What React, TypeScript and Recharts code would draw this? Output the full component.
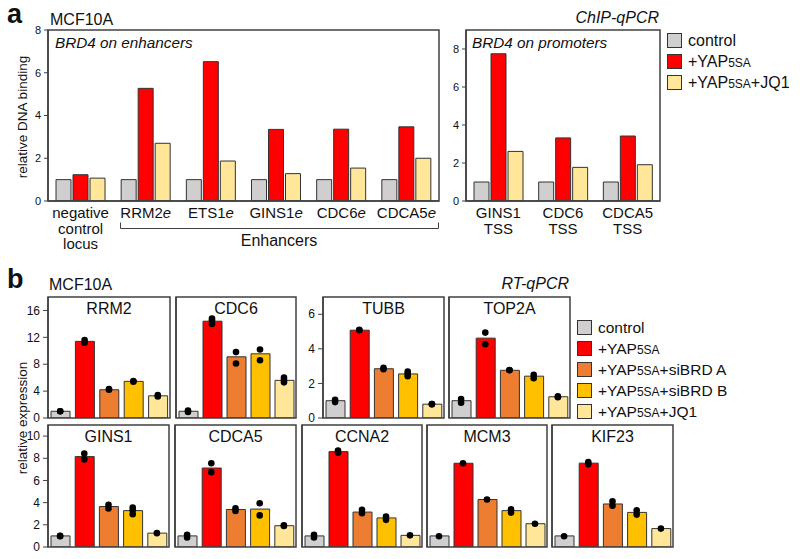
import React from 'react';
import { BarChart, ComposedChart, Bar, XAxis, YAxis, Cell, Line } from 'recharts';

const FONT = '"Liberation Sans", Arial, Helvetica, sans-serif';
const INK = '#111';
const FRAME = '#404040';

// ---------- Panel a data ----------
const enhancerLoci = ['negative control locus', 'RRM2e', 'ETS1e', 'GINS1e', 'CDC6e', 'CDCA5e'];
const enhControl = [1.0, 1.0, 1.0, 1.0, 1.0, 1.0];
const enhYap = [1.23, 5.27, 6.52, 3.35, 3.36, 3.47];
const enhJq1 = [1.07, 2.7, 1.87, 1.28, 1.54, 2.0];

const promoterLoci = ['GINS1 TSS', 'CDC6 TSS', 'CDCA5 TSS'];
const proControl = [1.0, 1.0, 1.0];
const proYap = [7.75, 3.32, 3.42];
const proJq1 = [2.61, 1.77, 1.91];

const ticksEnh = [0, 2, 4, 6, 8];
const ticksPro = [0, 2, 4, 6, 8];
const legendA = ['control', '+YAP5SA', '+YAP5SA+JQ1'];
const colorsA = ['#d0cece', '#ff0000', '#ffe699'];

// ---------- Panel b data ----------
const conditions = ['control', '+YAP5SA', '+YAP5SA+siBRD A', '+YAP5SA+siBRD B', '+YAP5SA+JQ1'];
const colorsB = ['#d0cece', '#ff0000', '#ed7d31', '#ffc000', '#ffe699'];

const rrm2Mean = [1.0, 11.4, 4.2, 5.45, 3.3];
const rrm2Reps = [[1.0, 1.0], [11.2, 11.6], [4.2, 4.3], [5.4, 5.5], [3.2, 3.4]];
const cdc6Mean = [1.0, 14.4, 9.1, 9.55, 5.6];
const cdc6Reps = [[0.9, 1.1], [14.0, 14.5, 14.8], [8.1, 9.8], [8.6, 10.2], [5.3, 5.6, 6.0]];
const tubbMean = [1.0, 5.08, 2.85, 2.55, 0.8];
const tubbReps = [[0.92, 1.05], [5.08, 5.1], [2.82, 2.9], [2.42, 2.55, 2.68], [0.8, 0.8]];
const top2aMean = [1.0, 4.62, 2.76, 2.42, 1.23];
const top2aReps = [[0.88, 1.1], [4.27, 4.94], [2.76, 2.78], [2.3, 2.5], [1.2, 1.25]];
const gins1Mean = [1.0, 8.15, 3.65, 3.28, 1.25];
const gins1Reps = [[0.98, 1.0], [7.9, 8.43], [3.48, 3.8], [2.95, 3.3, 3.55], [1.25]];
const cdca5Mean = [1.0, 7.12, 3.38, 3.42, 1.92];
const cdca5Reps = [[0.85, 1.1], [6.75, 7.55], [3.25, 3.5], [2.85, 3.95], [1.9, 1.95]];
const ccna2Mean = [1.0, 8.6, 3.15, 2.62, 1.05];
const ccna2Reps = [[0.85, 1.1], [8.5, 8.7], [3.05, 3.35], [2.45, 2.75], [1.05]];
const mcm3Mean = [1.0, 7.55, 4.28, 3.28, 2.1];
const mcm3Reps = [[0.97], [7.55], [4.28], [3.1, 3.4], [2.1]];
const kif23Mean = [1.0, 7.56, 3.88, 3.12, 1.66];
const kif23Reps = [[0.97], [7.45, 7.65], [3.73, 4.13], [2.92, 3.31], [1.66]];

const ticksTop1 = [0, 4, 8, 12, 16];
const ticksTop2 = [0, 2, 4, 6];
const ticksBottom = [0, 2, 4, 6, 8, 10];

// ---------- helpers ----------
const frameLine = { stroke: FRAME, strokeWidth: 1.5 };

function withSmall(label: string, big: number, small: number) {
  const parts = label.split('5SA');
  const out: any[] = [];
  parts.forEach((p, i) => {
    out.push(<tspan key={'p' + i} fontSize={big}>{p}</tspan>);
    if (i < parts.length - 1) out.push(<tspan key={'s' + i} fontSize={small}>5SA</tspan>);
  });
  return out;
}

function italicE(line: string) {
  if (/\de$/.test(line)) {
    return [<tspan key="a">{line.slice(0, -1)}</tspan>, <tspan key="b" fontStyle="italic">e</tspan>];
  }
  return line;
}

const LocusTick = (props: any) => {
  const { x, y, payload } = props;
  const lines: string[] = String(payload.value).split(' ');
  return (
    <g>
      {lines.map((ln, i) => (
        <text key={i} x={x} y={y + 17 + i * 15.5} textAnchor="middle" fontSize={15} fontFamily={FONT} fill={INK}>
          {italicE(ln)}
        </text>
      ))}
    </g>
  );
};

const makeNumTick = (size: number) => (props: any) => {
  const { x, y, payload } = props;
  return (
    <text x={x} y={y} dy="0.35em" textAnchor="end" fontSize={size} fontFamily={FONT} fill={INK}>
      {payload.value}
    </text>
  );
};
const TickA = makeNumTick(11);
const TickB = makeNumTick(12);

type PlotAProps = { loci: string[]; c: number[]; yp: number[]; jq: number[]; x: number; y: number; w: number; h: number; max: number; ticks: number[] };

const PlotA = ({ loci, c, yp, jq, x, y, w, h, max, ticks }: PlotAProps) => {
  const yw = 36, xh = 52, pad = 8;
  const data = loci.map((l, i) => ({ locus: l, control: c[i], yap: yp[i], jq1: jq[i] }));
  return (
    <div style={{ position: 'absolute', left: x - yw - pad, top: y - pad }}>
      <BarChart width={w + yw + 2 * pad} height={h + xh + 2 * pad} data={data}
        margin={{ top: pad, right: pad, bottom: pad, left: pad }} barGap={2} barCategoryGap={7}>
        <XAxis dataKey="locus" interval={0} height={xh} tickSize={0} tickMargin={0} tickLine={false}
          axisLine={frameLine} tick={<LocusTick />} />
        <YAxis type="number" domain={[0, max]} ticks={ticks} interval={0} width={yw} tickSize={4} tickMargin={3}
          tickLine={{ stroke: FRAME }} axisLine={frameLine} tick={<TickA />} allowDataOverflow />
        <Bar dataKey="control" fill={colorsA[0]} stroke="#333" strokeWidth={1} barSize={15} isAnimationActive={false} />
        <Bar dataKey="yap" fill={colorsA[1]} stroke="#333" strokeWidth={1} barSize={15} isAnimationActive={false} />
        <Bar dataKey="jq1" fill={colorsA[2]} stroke="#333" strokeWidth={1} barSize={15} isAnimationActive={false} />
      </BarChart>
    </div>
  );
};

type GeneProps = { mean: number[]; reps: number[][]; x: number; y: number; w: number; h: number; max: number; ticks: number[]; showY: boolean };

const GenePlot = ({ mean, reps, x, y, w, h, max, ticks, showY }: GeneProps) => {
  const yw = 36, pad = 10;
  const data = conditions.map((cond, i) => ({
    cond,
    mean: mean[i],
    r1: reps[i][0] ?? null,
    r2: reps[i][1] ?? null,
    r3: reps[i][2] ?? null,
  }));
  const dot = { r: 3.3, fill: '#000', stroke: 'none' };
  return (
    <div style={{ position: 'absolute', left: x - yw - pad, top: y - pad }}>
      <ComposedChart width={w + yw + 2 * pad} height={h + 2 * pad} data={data}
        margin={{ top: pad, right: pad, bottom: pad, left: pad }}>
        <XAxis dataKey="cond" height={0} tick={false} tickLine={false} axisLine={frameLine} />
        <YAxis type="number" domain={[0, max]} ticks={ticks.slice(1)} interval={0} width={yw} tickSize={5} tickMargin={3}
          tickLine={showY ? { stroke: FRAME } : false} axisLine={frameLine}
          tick={showY ? <TickB /> : false} allowDataOverflow />
        <Bar dataKey="mean" barSize={19} stroke="#333" strokeWidth={1} isAnimationActive={false}>
          {data.map((d, i) => <Cell key={d.cond} fill={colorsB[i]} />)}
        </Bar>
        <Line dataKey="r1" stroke="none" dot={dot} activeDot={false} isAnimationActive={false} />
        <Line dataKey="r2" stroke="none" dot={dot} activeDot={false} isAnimationActive={false} />
        <Line dataKey="r3" stroke="none" dot={dot} activeDot={false} isAnimationActive={false} />
      </ComposedChart>
    </div>
  );
};

// layout rects for panels (plot areas)
const panelsA = [
  { x: 48, y: 30, w: 391, h: 171 },
  { x: 466, y: 30, w: 194, h: 171 },
];
const genePanels = [
  { name: 'RRM2', mean: rrm2Mean, reps: rrm2Reps, x: 48, y: 297, w: 122, h: 121, max: 18, ticks: ticksTop1, showY: true },
  { name: 'CDC6', mean: cdc6Mean, reps: cdc6Reps, x: 176, y: 297, w: 120, h: 121, max: 18, ticks: ticksTop1, showY: false },
  { name: 'TUBB', mean: tubbMean, reps: tubbReps, x: 323, y: 297, w: 121, h: 121, max: 7, ticks: ticksTop2, showY: true },
  { name: 'TOP2A', mean: top2aMean, reps: top2aReps, x: 449, y: 297, w: 121, h: 121, max: 7, ticks: ticksTop2, showY: false },
  { name: 'GINS1', mean: gins1Mean, reps: gins1Reps, x: 48, y: 425, w: 121, h: 122, max: 11, ticks: ticksBottom, showY: true },
  { name: 'CDCA5', mean: cdca5Mean, reps: cdca5Reps, x: 175, y: 425, w: 121, h: 122, max: 11, ticks: ticksBottom, showY: false },
  { name: 'CCNA2', mean: ccna2Mean, reps: ccna2Reps, x: 302, y: 425, w: 120, h: 122, max: 11, ticks: ticksBottom, showY: false },
  { name: 'MCM3', mean: mcm3Mean, reps: mcm3Reps, x: 427, y: 425, w: 120, h: 122, max: 11, ticks: ticksBottom, showY: false },
  { name: 'KIF23', mean: kif23Mean, reps: kif23Reps, x: 552, y: 425, w: 121, h: 122, max: 11, ticks: ticksBottom, showY: false },
];

export default function App() {
  return (
    <div style={{ position: 'absolute', left: 0, top: 0, width: 800, height: 559, background: '#fff', fontFamily: FONT, overflow: 'hidden' }}>
      <PlotA loci={enhancerLoci} c={enhControl} yp={enhYap} jq={enhJq1} {...panelsA[0]} max={8} ticks={ticksEnh} />
      <PlotA loci={promoterLoci} c={proControl} yp={proYap} jq={proJq1} {...panelsA[1]} max={9} ticks={ticksPro} />
      {genePanels.map((p) => (
        <GenePlot key={p.name} mean={p.mean} reps={p.reps} x={p.x} y={p.y} w={p.w} h={p.h} max={p.max} ticks={p.ticks} showY={p.showY} />
      ))}
      <svg width={800} height={559} style={{ position: 'absolute', left: 0, top: 0, pointerEvents: 'none' }} fontFamily={FONT}>
        {/* plot frames */}
        {[...panelsA, ...genePanels].map((p, i) => (
          <rect key={'f' + i} x={p.x} y={p.y} width={p.w} height={p.h} fill="none" stroke={FRAME} strokeWidth={1.5} />
        ))}
        {/* zero tick of panel b axes (baseline of each plot) */}
        {genePanels.filter((p) => p.showY).map((p) => (
          <g key={'z' + p.name}>
            <line x1={p.x - 5} x2={p.x} y1={p.y + p.h} y2={p.y + p.h} stroke={FRAME} strokeWidth={1} />
            <text x={p.x - 8} y={p.y + p.h} dy="0.35em" textAnchor="end" fontSize={12} fill={INK}>{p.ticks[0]}</text>
          </g>
        ))}
        {/* panel a */}
        <text x={7} y={23} fontSize={27} fontWeight="bold" fill={INK}>a</text>
        <text x={50} y={25} fontSize={16} fill={INK}>MCF10A</text>
        <text x={659} y={23} fontSize={16} fontStyle="italic" textAnchor="end" fill={INK}>ChIP-qPCR</text>
        <text x={55} y={48} fontSize={15.3} fontStyle="italic" fill={INK}>BRD4 on enhancers</text>
        <text x={472} y={48} fontSize={15.3} fontStyle="italic" fill={INK}>BRD4 on promoters</text>
        <text transform="translate(22,117) rotate(-90)" textAnchor="middle" dominantBaseline="central" fontSize={13.5} fill={INK}>relative DNA binding</text>
        <path d="M120.5,222.5 V228.5 H438.5 V222.5" fill="none" stroke={FRAME} strokeWidth={1} />
        <text x={279} y={246} fontSize={16} textAnchor="middle" fill={INK}>Enhancers</text>
        {legendA.map((l, i) => (
          <g key={l}>
            <rect x={667.5} y={33.5 + i * 21} width={14} height={14} fill={colorsA[i]} stroke="#333" strokeWidth={1} />
            <text x={688} y={46 + i * 21} fill={INK}>{withSmall(l, 16, 12)}</text>
          </g>
        ))}
        {/* panel b */}
        <text x={7} y={288} fontSize={27} fontWeight="bold" fill={INK}>b</text>
        <text x={49} y={290} fontSize={16} fill={INK}>MCF10A</text>
        <text x={569} y={289} fontSize={16} fontStyle="italic" textAnchor="end" fill={INK}>RT-qPCR</text>
        <text transform="translate(22,418) rotate(-90)" textAnchor="middle" dominantBaseline="central" fontSize={13.5} fill={INK}>relative expression</text>
        {genePanels.map((p) => (
          <text key={p.name} x={p.x + p.w / 2} y={p.y + 17} fontSize={16} textAnchor="middle" fill={INK}>{p.name}</text>
        ))}
        {conditions.map((l, i) => (
          <g key={l}>
            <rect x={577.5} y={320.5 + i * 21} width={14} height={14} fill={colorsB[i]} stroke="#333" strokeWidth={1} />
            <text x={598} y={333 + i * 21} fill={INK}>{withSmall(l, 15.5, 12)}</text>
          </g>
        ))}
      </svg>
    </div>
  );
}
